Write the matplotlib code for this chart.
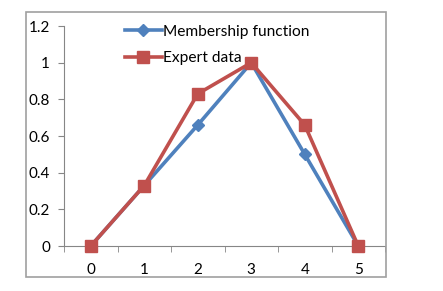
import matplotlib
matplotlib.use("Agg")
from matplotlib import pyplot as plt
from matplotlib.patches import Rectangle

plt.rcParams['font.family'] = ['Lato', 'DejaVu Sans']

x_vals = [0, 1, 2, 3, 4, 5]
membership = [0, 0.33, 0.66, 1.0, 0.5, 0]
expert = [0, 0.33, 0.83, 1.0, 0.66, 0]
y_ticks = [0, 0.2, 0.4, 0.6, 0.8, 1, 1.2]
y_labels = ['0', '0.2', '0.4', '0.6', '0.8', '1', '1.2']

blue = '#4F81BD'
red = '#C0504D'

fig = plt.figure(figsize=(4.43, 2.91), dpi=100)
fig.patches.append(Rectangle((26/443, 1-277/291), 360/443, 265/291,
                             transform=fig.transFigure, fill=False,
                             edgecolor='#a0a0a0', linewidth=1.2))
ax = fig.add_axes([64/443, 1-246/291, 321/443, 220/291])

ax.plot(x_vals, membership, color=blue, lw=2.6, marker='D', ms=6,
        label='Membership function', zorder=3, clip_on=False)
ax.plot(x_vals, expert, color=red, lw=2.6, marker='s', ms=8.5,
        label='Expert data', zorder=4, clip_on=False)

ax.set_xlim(-0.5, 5.5)
ax.set_ylim(0, 1.2)
ax.set_yticks(y_ticks)
ax.set_yticklabels(y_labels)
ax.set_xticks(x_vals)
ax.set_xticks([i - 0.5 for i in range(7)], minor=True)
ax.tick_params(axis='x', which='major', length=0, pad=12, labelsize=11)
ax.tick_params(axis='x', which='minor', length=4, color='#868686', direction='out')
ax.tick_params(axis='y', length=4, color='#868686', direction='out', pad=6, labelsize=11)
for s in ['top', 'right']:
    ax.spines[s].set_visible(False)
for s in ['left', 'bottom']:
    ax.spines[s].set_color('#868686')

ax.legend(loc='upper left', bbox_to_anchor=(0.17, 1.035), frameon=False,
          fontsize=11.2, handlelength=2.4, handletextpad=0.05, labelspacing=0.8,
          borderaxespad=0)

fig.savefig('out.png', dpi=100)
